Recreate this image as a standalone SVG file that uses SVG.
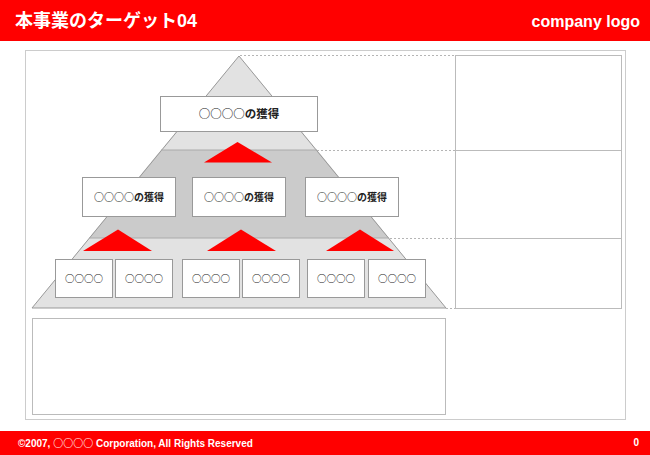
<svg xmlns="http://www.w3.org/2000/svg" width="650" height="455" viewBox="0 0 650 455">
<style>
.bar{fill:#ff0000}
.hd{font-family:"Liberation Sans","Noto Sans CJK JP",sans-serif;font-weight:bold;fill:#fff}
.ft{font-family:"Liberation Sans","Noto Sans CJK JP",sans-serif;font-weight:bold;fill:#fff}
.circ{font-family:"Noto Sans CJK JP",sans-serif;font-weight:bold}
.frame{fill:#fff;stroke:#cccccc;stroke-width:1}
.box{fill:#fff;stroke:#999;stroke-width:1}
.lbl{font-family:"Noto Sans CJK JP","Liberation Sans",sans-serif;font-weight:bold;fill:#222;text-anchor:middle}
.red{fill:#ff0000}
.dot{stroke:#b5b5b5;stroke-width:1;stroke-dasharray:2,2;fill:none}
.panel{fill:#fff;stroke:#bbbbbb;stroke-width:1}
</style>
<rect width="650" height="455" fill="#fff"/>
<g id="header">
<rect class="bar" x="0" y="0" width="650" height="41"/>
<text class="hd" x="15" y="27" font-size="18">本事業のターゲット04</text>
<text class="hd" x="640" y="27" font-size="16" text-anchor="end">company logo</text>
</g>
<rect class="frame" x="25.5" y="50.5" width="600" height="369"/>
<g id="pyramid">
<polygon points="239,56 161,150 317,150" fill="#e2e2e2"/>
<polygon points="161,150 317,150 389,238 89,238" fill="#cbcbcb"/>
<polygon points="89,238 389,238 446,308 32,308" fill="#e2e2e2"/>
<polygon points="239,56 446,308 32,308" fill="none" stroke="#999" stroke-width="1"/>
<line x1="161" y1="150" x2="317" y2="150" stroke="#aaa"/>
<line x1="89" y1="238" x2="389" y2="238" stroke="#aaa"/>
</g>
<g id="connectors">
<line class="dot" x1="240" y1="55.5" x2="455" y2="55.5"/>
<line class="dot" x1="317" y1="150.5" x2="455" y2="150.5"/>
<line class="dot" x1="390" y1="238.5" x2="455" y2="238.5"/>
<line class="dot" x1="446" y1="308.5" x2="455" y2="308.5"/>
<polygon class="red" points="237.5,142 204,162.5 272,162.5"/>
<polygon class="red" points="118,229.5 83,251 152,251"/>
<polygon class="red" points="241,229.5 207,251 276,251"/>
<polygon class="red" points="360,229.5 326,251 394,251"/>
</g>
<g id="node-top">
<rect class="box" x="160.5" y="96.5" width="157" height="35"/>
<text class="lbl" x="239" y="118" font-size="11.5">○○○○の獲得</text>
</g>
<g id="node-mid1">
<rect class="box" x="82.5" y="177.5" width="93" height="39"/>
<text class="lbl" x="129" y="200.5" font-size="10">○○○○の獲得</text>
</g>
<g id="node-mid2">
<rect class="box" x="192.5" y="177.5" width="93" height="39"/>
<text class="lbl" x="239" y="200.5" font-size="10">○○○○の獲得</text>
</g>
<g id="node-mid3">
<rect class="box" x="305.5" y="177.5" width="93" height="39"/>
<text class="lbl" x="352" y="200.5" font-size="10">○○○○の獲得</text>
</g>
<g id="node-b1"><rect class="box" x="55.5" y="259.5" width="57" height="38"/><text class="lbl" x="84" y="282" font-size="9.5">○○○○</text></g>
<g id="node-b2"><rect class="box" x="115.5" y="259.5" width="57" height="38"/><text class="lbl" x="144" y="282" font-size="9.5">○○○○</text></g>
<g id="node-b3"><rect class="box" x="182.5" y="259.5" width="57" height="38"/><text class="lbl" x="211" y="282" font-size="9.5">○○○○</text></g>
<g id="node-b4"><rect class="box" x="242.5" y="259.5" width="57" height="38"/><text class="lbl" x="271" y="282" font-size="9.5">○○○○</text></g>
<g id="node-b5"><rect class="box" x="307.5" y="259.5" width="57" height="38"/><text class="lbl" x="336" y="282" font-size="9.5">○○○○</text></g>
<g id="node-b6"><rect class="box" x="368.5" y="259.5" width="57" height="38"/><text class="lbl" x="397" y="282" font-size="9.5">○○○○</text></g>
<g id="right-panel">
<rect class="panel" x="455.5" y="55.5" width="166" height="253"/>
<line x1="455.5" y1="150.5" x2="621.5" y2="150.5" stroke="#bbb"/>
<line x1="455.5" y1="238.5" x2="621.5" y2="238.5" stroke="#bbb"/>
</g>
<g id="bottom-box">
<rect class="panel" x="32.5" y="318.5" width="413" height="96"/>
</g>
<g id="footer">
<rect class="bar" x="0" y="431" width="650" height="24"/>
<text class="ft" x="18" y="447" font-size="10">©2007, <tspan class="circ">○○○○</tspan> Corporation, All Rights Reserved</text>
<text class="ft" x="639" y="446" font-size="10" text-anchor="end">0</text>
</g>
</svg>
